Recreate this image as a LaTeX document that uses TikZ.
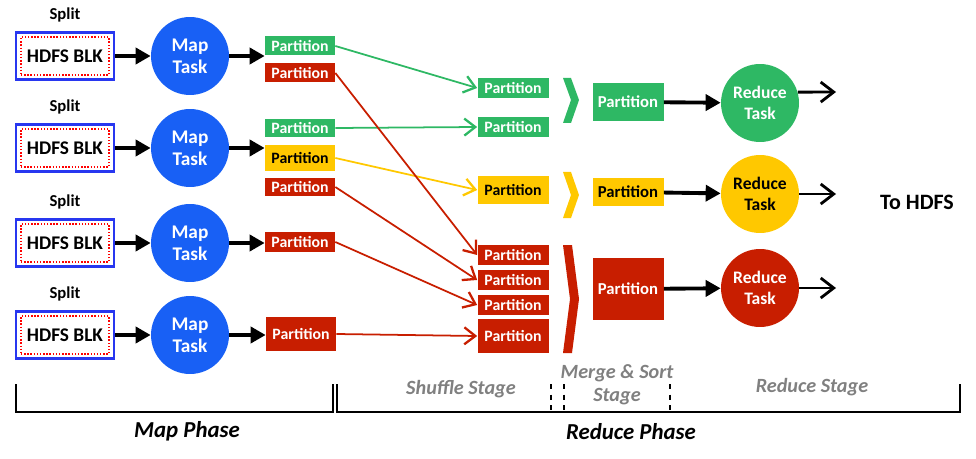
\documentclass[tikz,border=0pt]{standalone}
\usepackage{fontspec}
\setmainfont{Carlito}
\usepackage{xcolor}
\usepackage{tikz}
\usetikzlibrary{arrows.meta,positioning,calc}
\definecolor{mapblue}{RGB}{24,96,245}
\definecolor{boxblue}{RGB}{40,55,240}
\definecolor{pgreen}{RGB}{46,184,100}
\definecolor{pyellow}{RGB}{255,200,0}
\definecolor{pred}{RGB}{200,30,0}
\definecolor{stagegray}{RGB}{128,128,128}

\begin{document}
\begin{tikzpicture}[
  x=0.02cm,y=-0.02cm,
  font=\bfseries\fontsize{9}{10}\selectfont,
  splitbox/.style={draw=boxblue,line width=1.2pt,minimum width=1.96cm,minimum height=0.94cm,inner sep=0pt},
  hdfs/.style={draw=red,densely dotted,line width=0.8pt,minimum width=1.76cm,minimum height=0.76cm,inner sep=0pt,font=\bfseries\fontsize{11}{12}\selectfont},
  task/.style={circle,minimum size=1.56cm,inner sep=0pt,align=center,text=white,font=\bfseries\fontsize{11}{12.5}\selectfont},
  redtask/.style={task,font=\bfseries\fontsize{10}{12}\selectfont},
  part/.style={minimum width=1.4cm,minimum height=0.38cm,inner sep=0pt,text=white},
  fat/.style={line width=2.2pt,-{Triangle[length=3mm,width=3.2mm]}},
  flow/.style={line width=1pt,-{Straight Barb[length=2.2mm,width=3.4mm,line width=1.3pt]}},
  toarr/.style={line width=1.6pt,-{Straight Barb[length=2.6mm,width=4mm]}},
  stage/.style={text=stagegray,font=\bfseries\itshape\fontsize{11.5}{13}\selectfont,align=center},
  phase/.style={font=\bfseries\itshape\fontsize{13}{15}\selectfont}
]
\useasboundingbox (0,0) rectangle (976,459);

% map side
\foreach \i/\y in {1/56,2/148,3/243,4/335}{
  \node[splitbox] (s\i) at (65,\y) {};
  \node[hdfs] (h\i) at (s\i) {HDFS BLK};
  \node[above=0.7mm of s\i,font=\bfseries\fontsize{9.5}{10}\selectfont] (l\i) {Split};
  \node[task,fill=mapblue] (m\i) at (190,\y) {Map\\Task};
  \draw[fat] (s\i) -- (m\i);
}

\node[part,fill=pgreen] (g1) at (300,46) {Partition};
\node[part,fill=pred] (r1) at (300,73) {Partition};
\node[part,fill=pgreen] (g2) at (300,128) {Partition};
\node[part,fill=pyellow,text=black,minimum height=0.54cm] (y2) at (300,158) {Partition};
\node[part,fill=pred] (r2) at (300,187) {Partition};
\node[part,fill=pred,minimum height=0.4cm] (r3) at (300,242) {Partition};
\node[part,fill=pred,minimum height=0.68cm] (r4) at (301,334) {Partition};

\draw[fat] (m1) -- (m1 -| g1.west);
\draw[fat] (m2) -- (m2 -| y2.west);
\draw[fat] (m3) -- (m3 -| r3.west);
\draw[fat] (m4) -- (m4 -| r4.west);

% shuffle
\node[part,fill=pgreen,minimum width=1.42cm,minimum height=0.4cm] (sg1) at (513,88) {Partition};
\node[part,fill=pgreen,minimum width=1.42cm,minimum height=0.4cm] (sg2) at (513,127) {Partition};
\node[part,fill=pyellow,text=black,minimum width=1.42cm,minimum height=0.56cm] (sy) at (513,190) {Partition};
\node[part,fill=pred,minimum width=1.42cm,minimum height=0.4cm] (sr1) at (513,255) {Partition};
\node[part,fill=pred,minimum width=1.42cm,minimum height=0.4cm] (sr2) at (513,280) {Partition};
\node[part,fill=pred,minimum width=1.42cm,minimum height=0.4cm] (sr3) at (513,305) {Partition};
\node[part,fill=pred,minimum width=1.42cm,minimum height=0.68cm] (sr4) at (513,336) {Partition};

\draw[flow,pgreen] (g1.east) -- (sg1.west);
\draw[flow,pgreen] (g2.east) -- (sg2.west);
\draw[flow,pyellow] (y2.east) -- (sy.west);
\draw[flow,pred] (r1.east) -- (sr1.west);
\draw[flow,pred] (r2.east) -- (sr2.west);
\draw[flow,pred] (r3.east) -- (sr3.west);
\draw[flow,pred] (r4.east) -- (sr4.west);

% merge chevrons
\fill[pgreen] (563,78) -- (571,78) -- (579,100) -- (571,123) -- (563,123) -- (571,100) -- cycle;
\fill[pyellow] (563,172) -- (571,172) -- (579,195) -- (571,218) -- (563,218) -- (571,195) -- cycle;
\fill[pred] (563,245) -- (572,245) -- (579,299) -- (572,353) -- (563,353) -- (570,299) -- cycle;

% reduce
\node[part,fill=pgreen,minimum width=1.42cm,minimum height=0.78cm,font=\bfseries\fontsize{9.5}{10}\selectfont] (mg) at (628,102) {Partition};
\node[part,fill=pyellow,text=black,minimum width=1.42cm,minimum height=0.58cm,font=\bfseries\fontsize{9.5}{10}\selectfont] (my) at (628,192) {Partition};
\node[part,fill=pred,minimum width=1.42cm,minimum height=1.26cm,font=\bfseries\fontsize{9.5}{10}\selectfont] (mr) at (628,289) {Partition};

\node[redtask,fill=pgreen] (rg) at (760,103) {Reduce\\Task};
\node[redtask,fill=pyellow,text=black] (ry) at (760,194) {Reduce\\Task};
\node[redtask,fill=pred] (rr) at (760,288) {Reduce\\Task};

\draw[fat] (mg) -- (rg);
\draw[fat] (my) -- (ry);
\draw[fat] (mr) -- (rr);

\coordinate (og) at (836,92);
\coordinate (oy) at (836,194);
\coordinate (or) at (836,288);
\draw[toarr] (rg.16) -- (og);
\draw[toarr] (ry) -- (oy);
\draw[toarr] (rr) -- (or);

\node[font=\bfseries\fontsize{12.5}{14}\selectfont] (tohdfs) at (917,202) {To HDFS};

% phases
\draw[line width=0.9pt] (16,384) -- (16,412) -- (333,412) -- (333,384);
\draw[line width=0.9pt] (337,384) -- (337,412) -- (960,412) -- (960,384);
\draw[line width=0.9pt,dashed] (551,384) -- (551,412);
\draw[line width=0.9pt,dashed] (564,384) -- (564,412);
\draw[line width=0.9pt,dashed] (670,384) -- (670,412);

\node[stage] (shuffle) at (461,389) {Shuffle Stage};
\node[stage] (merge) at (617,385) {Merge \& Sort\\Stage};
\node[stage] (reducest) at (812,387) {Reduce Stage};
\node[phase] (mapph) at (187,431) {Map Phase};
\node[phase] (redph) at (631,432) {Reduce Phase};
\end{tikzpicture}
\end{document}
